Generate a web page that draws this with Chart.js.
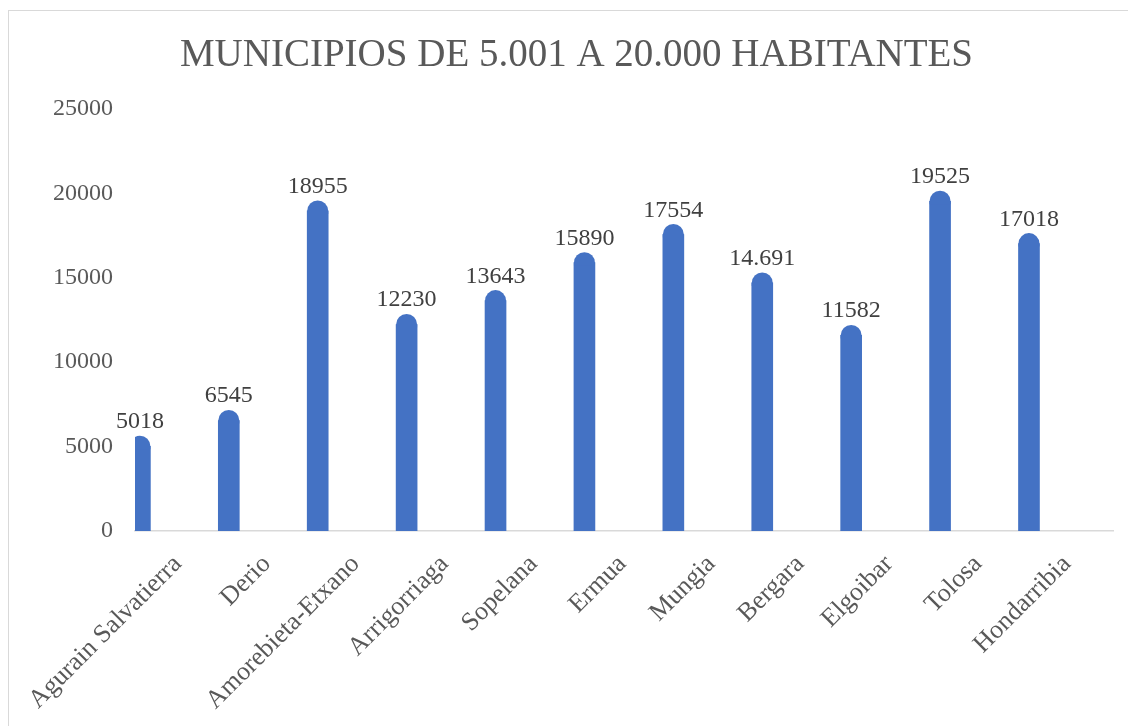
<!DOCTYPE html>
<html>
<head>
<meta charset="utf-8">
<script src="https://cdn.jsdelivr.net/npm/chart.js@4"></script>
<style>
html, body { margin: 0; padding: 0; background: #fff; overflow: hidden; }
#frame { position: absolute; left: 8px; top: 10px; width: 1200px; height: 800px;
         border-left: 1.5px solid #d9d9d9; border-top: 1.5px solid #d9d9d9; }
#popchart { position: absolute; left: 0; top: 0; }
</style>
</head>
<body>
<div id="frame"></div>
<canvas id="popchart" width="1128" height="726"></canvas>
<script>
var municipios = ["Agurain Salvatierra", "Derio", "Amorebieta-Etxano", "Arrigorriaga", "Sopelana",
    "Ermua", "Mungia", "Bergara", "Elgoibar", "Tolosa", "Hondarribia"];
var habitantes = [5018, 6545, 18955, 12230, 13643, 15890, 17554, 14691, 11582, 19525, 17018];
var etiquetas = ["5018", "6545", "18955", "12230", "13643", "15890", "17554", "14.691", "11582", "19525", "17018"];
var yTicks = [0, 5000, 10000, 15000, 20000, 25000];

var barColor = "#4472C4";
var serif = "'Liberation Serif', 'Times New Roman', serif";

// rounded caps on top of each bar, like the original
var roundTops = {
    id: "roundTops",
    afterDatasetsDraw: function (chart) {
        var ctx = chart.ctx, area = chart.chartArea;
        ctx.save();
        ctx.beginPath();
        ctx.rect(area.left, 0, area.right - area.left, area.bottom);
        ctx.clip();
        ctx.fillStyle = barColor;
        chart.getDatasetMeta(0).data.forEach(function (bar) {
            var r = bar.width / 2;
            ctx.beginPath();
            ctx.arc(bar.x, bar.y, r, Math.PI, 0);
            ctx.lineTo(bar.x + r, bar.y + 3);
            ctx.lineTo(bar.x - r, bar.y + 3);
            ctx.closePath();
            ctx.fill();
        });
        ctx.restore();
    }
};

var valueLabels = {
    id: "valueLabels",
    afterDraw: function (chart) {
        var ctx = chart.ctx;
        ctx.save();
        ctx.font = "24px " + serif;
        ctx.fillStyle = "#404040";
        ctx.textAlign = "center";
        ctx.textBaseline = "alphabetic";
        chart.getDatasetMeta(0).data.forEach(function (bar, i) {
            ctx.fillText(etiquetas[i], bar.x, bar.y - 18);
        });
        ctx.restore();
    }
};

var config = {
    type: "bar",
    data: {
        datasets: [{
            label: "Habitantes",
            data: habitantes.map(function (v, i) { return { x: i, y: v }; }),
            backgroundColor: barColor,
            barThickness: 21,
            clip: 0
        }]
    },
    options: {
        responsive: false,
        animation: false,
        layout: { padding: { left: 40, right: 15, top: 0, bottom: 0 } },
        plugins: {
            legend: { display: false },
            tooltip: { enabled: false },
            title: {
                display: true,
                text: "MUNICIPIOS DE 5.001 A 20.000 HABITANTES",
                color: "#595959",
                font: { family: serif, size: 39, weight: "normal" },
                padding: { top: 32, bottom: 30 }
            }
        },
        scales: {
            x: {
                type: "linear",
                offset: false,
                min: -0.055,
                max: 10.945,
                afterBuildTicks: function (scale) {
                    scale.ticks = municipios.map(function (m, i) { return { value: i }; });
                },
                afterFit: function (scale) {
                    scale.height = 195;
                    scale.paddingLeft = 0;
                    scale.paddingRight = 0;
                },
                grid: { display: true, offset: false, color: "rgba(0,0,0,0)", drawTicks: false },
                border: { display: true, color: "#d9d9d9", width: 1.5 },
                ticks: {
                    autoSkip: false,
                    minRotation: 45,
                    maxRotation: 45,
                    labelOffset: 38,
                    padding: 18,
                    color: "#595959",
                    font: { family: serif, size: 26 },
                    callback: function (v, i) { return municipios[i]; }
                }
            },
            y: {
                min: yTicks[0],
                max: yTicks[yTicks.length - 1],
                afterBuildTicks: function (scale) {
                    scale.ticks = yTicks.map(function (v) { return { value: v }; });
                },
                afterFit: function (scale) { scale.width = 95; },
                grid: { display: false, drawTicks: false },
                border: { display: false },
                ticks: {
                    padding: 22,
                    color: "#595959",
                    font: { family: serif, size: 24 },
                    callback: function (v) { return String(v); }
                }
            }
        }
    },
    plugins: [roundTops, valueLabels]
};

var popchart = new Chart(document.getElementById("popchart"), config);
</script>
</body>
</html>
